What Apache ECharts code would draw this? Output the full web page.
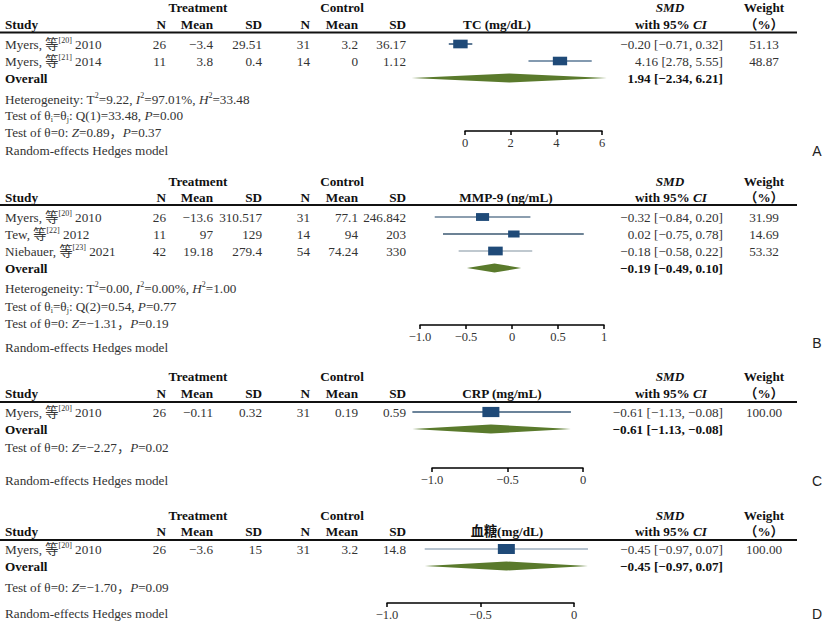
<!DOCTYPE html>
<html>
<head>
<meta charset="utf-8">
<title>Forest plots</title>
<script src="https://cdn.jsdelivr.net/npm/echarts@6.0.0/dist/echarts.min.js"></script>
<style>
    html, body { margin: 0; padding: 0; background: #fff; }
    #chart { width: 823px; height: 628px; }
</style>
</head>
<body>
<div id="chart"></div>
<script>
// ---------- data ----------
// A: TC
const tcTitle = 'TC (mg/dL)';
const tcStudies = ['Myers', 'Myers'];
const tcRefs = [20, 21];
const tcYears = [2010, 2014];
const tcTreat = [[26, -3.4, 29.51], [11, 3.8, 0.4]];      // N, Mean, SD
const tcCtrl = [[31, 3.2, 36.17], [14, 0, 1.12]];
const tcSmd = [[-0.20, -0.71, 0.32], [4.16, 2.78, 5.55]]; // SMD, lower, upper
const tcWeight = [51.13, 48.87];
const tcOverall = [1.94, -2.34, 6.21];
const tcTicks = [0, 2, 4, 6];
const tcTickLabels = ['0', '2', '4', '6'];
const tcNotes = [
    'Heterogeneity: T{sup|2}=9.22, {i|I}{sup|2}=97.01%, {i|H}{sup|2}=33.48',
    'Test of θ{sub|i}=θ{sub|j}: Q(1)=33.48, {i|P}=0.00',
    'Test of θ=0: {i|Z}=0.89，{i|P}=0.37'
];

// B: MMP-9
const mmpTitle = 'MMP-9 (ng/mL)';
const mmpStudies = ['Myers', 'Tew', 'Niebauer'];
const mmpRefs = [20, 22, 23];
const mmpYears = [2010, 2012, 2021];
const mmpTreat = [[26, -13.6, 310.517], [11, 97, 129], [42, 19.18, 279.4]];
const mmpCtrl = [[31, 77.1, 246.842], [14, 94, 203], [54, 74.24, 330]];
const mmpSmd = [[-0.32, -0.84, 0.20], [0.02, -0.75, 0.78], [-0.18, -0.58, 0.22]];
const mmpWeight = [31.99, 14.69, 53.32];
const mmpOverall = [-0.19, -0.49, 0.10];
const mmpTicks = [-1, -0.5, 0, 0.5, 1];
const mmpTickLabels = ['−1.0', '−0.5', '0', '0.5', '1'];
const mmpNotes = [
    'Heterogeneity: T{sup|2}=0.00, {i|I}{sup|2}=0.00%, {i|H}{sup|2}=1.00',
    'Test of θ{sub|i}=θ{sub|j}: Q(2)=0.54, {i|P}=0.77',
    'Test of θ=0: {i|Z}=−1.31，{i|P}=0.19'
];

// C: CRP
const crpTitle = 'CRP (mg/mL)';
const crpStudies = ['Myers'];
const crpRefs = [20];
const crpYears = [2010];
const crpTreat = [[26, -0.11, 0.32]];
const crpCtrl = [[31, 0.19, 0.59]];
const crpSmd = [[-0.61, -1.13, -0.08]];
const crpWeight = [100];
const crpOverall = [-0.61, -1.13, -0.08];
const crpTicks = [-1, -0.5, 0];
const crpTickLabels = ['−1.0', '−0.5', '0'];
const crpNotes = ['Test of θ=0: {i|Z}=−2.27，{i|P}=0.02'];

// D: blood glucose
const gluTitle = '血糖(mg/dL)';
const gluStudies = ['Myers'];
const gluRefs = [20];
const gluYears = [2010];
const gluTreat = [[26, -3.6, 15]];
const gluCtrl = [[31, 3.2, 14.8]];
const gluSmd = [[-0.45, -0.97, 0.07]];
const gluWeight = [100];
const gluOverall = [-0.45, -0.97, 0.07];
const gluTicks = [-1, -0.5, 0];
const gluTickLabels = ['−1.0', '−0.5', '0'];
const gluNotes = ['Test of θ=0: {i|Z}=−1.70，{i|P}=0.09'];

const modelNote = 'Random-effects Hedges model';
const colHeads = ['N', 'Mean', 'SD', 'N', 'Mean', 'SD'];

// ---------- layout ----------
const FONT = "'Liberation Serif', 'Times New Roman', 'Noto Sans CJK SC', serif";
const FS = 13.2;
const BODY = '#333';
const HEAD = '#111';
const BOX = '#1f4a78';
const DIAMOND = '#5a7a2c';
const ROW = 17;
const COLX = [166, 213, 262, 310, 358, 406];

const panels = [
    { letter: 'A', title: tcTitle, studies: tcStudies, refs: tcRefs, years: tcYears, treat: tcTreat, ctrl: tcCtrl,
      smd: tcSmd, weight: tcWeight, overall: tcOverall, ticks: tcTicks, tickLabels: tcTickLabels, notes: tcNotes,
      hdr: [7.5, 24, 32.5], row0: 44, axisY: 131, noteY: [99, 115.5, 132], modelY: 150, letterY: 151,
      titleX: 497, axisL: 465, axisW: 137, ciColors: ['#2b4f74', '#5a7996'] },
    { letter: 'B', title: mmpTitle, studies: mmpStudies, refs: mmpRefs, years: mmpYears, treat: mmpTreat, ctrl: mmpCtrl,
      smd: mmpSmd, weight: mmpWeight, overall: mmpOverall, ticks: mmpTicks, tickLabels: mmpTickLabels, notes: mmpNotes,
      hdr: [181, 197, 205], row0: 217, axisY: 325, noteY: [288, 306, 323], modelY: 347, letterY: 343,
      titleX: 506, axisL: 420, axisW: 184, ciColors: ['#667e95', '#3b5872', '#aab6bf'] },
    { letter: 'C', title: crpTitle, studies: crpStudies, refs: crpRefs, years: crpYears, treat: crpTreat, ctrl: crpCtrl,
      smd: crpSmd, weight: crpWeight, overall: crpOverall, ticks: crpTicks, tickLabels: crpTickLabels, notes: crpNotes,
      hdr: [376, 393, 402], row0: 412, axisY: 468, noteY: [447], modelY: 480, letterY: 481,
      titleX: 502, axisL: 432, axisW: 151, ciColors: ['#3a5a78'] },
    // the marks in D sit on a slightly different scale than its printed axis
    { letter: 'D', title: gluTitle, studies: gluStudies, refs: gluRefs, years: gluYears, treat: gluTreat, ctrl: gluCtrl,
      smd: gluSmd, weight: gluWeight, overall: gluOverall, ticks: gluTicks, tickLabels: gluTickLabels, notes: gluNotes,
      hdr: [515, 531, 540], row0: 549, axisY: 603, noteY: [587], modelY: 613, letterY: 614,
      titleX: 507, axisL: 387, axisW: 187, markL: 420, markW: 157, ciColors: ['#9fb1c0'] }
];

const RICH = {
    i: { fontFamily: FONT, fontSize: FS, fontStyle: 'italic', fill: BODY, lineHeight: 16 },
    b: { fontFamily: FONT, fontSize: FS, fontWeight: 'bold', fill: HEAD, lineHeight: 16 },
    bi: { fontFamily: FONT, fontSize: FS, fontWeight: 'bold', fontStyle: 'italic', fill: HEAD, lineHeight: 16 },
    sup: { fontFamily: FONT, fontSize: 8, fill: BODY, lineHeight: 8, verticalAlign: 'top' },
    sub: { fontFamily: FONT, fontSize: 8, fill: BODY, lineHeight: 8, verticalAlign: 'bottom' }
};

function num(v) { return String(v).replace('-', '−'); }
function f2(v) { return v.toFixed(2).replace(/-/g, '−'); }
function ci(a) { return f2(a[0]) + ' [' + f2(a[1]) + ', ' + f2(a[2]) + ']'; }

function txt(x, y, text, align, extra) {
    return {
        type: 'text', x: x, y: y, silent: true,
        style: Object.assign({
            text: text, fill: BODY, fontSize: FS, fontFamily: FONT, lineHeight: 16,
            textAlign: align, textVerticalAlign: 'middle', rich: RICH
        }, extra || {})
    };
}
const bold = { fontWeight: 'bold', fill: HEAD };

const graphics = [];
const grids = [], xAxes = [], yAxes = [], series = [];

panels.forEach(function (p, pi) {
    // header
    graphics.push(txt(198, p.hdr[0], 'Treatment', 'center', bold));
    graphics.push(txt(342, p.hdr[0], 'Control', 'center', bold));
    graphics.push(txt(670, p.hdr[0], 'SMD', 'center', { fontWeight: 'bold', fontStyle: 'italic', fill: HEAD }));
    graphics.push(txt(764, p.hdr[0], 'Weight', 'center', bold));
    graphics.push(txt(5, p.hdr[1], 'Study', 'left', bold));
    colHeads.forEach(function (h, k) { graphics.push(txt(COLX[k], p.hdr[1], h, 'right', bold)); });
    graphics.push(txt(p.titleX, p.hdr[1], p.title, 'center', bold));
    graphics.push(txt(671, p.hdr[1], 'with 95% {bi|CI}', 'center', bold));
    graphics.push(txt(764, p.hdr[1], '（%）', 'center', bold));
    graphics.push({ type: 'line', silent: true,
        shape: { x1: 0, y1: p.hdr[2], x2: 797, y2: p.hdr[2] },
        style: { stroke: '#111', lineWidth: 2 } });

    // study rows
    p.studies.forEach(function (s, i) {
        const y = p.row0 + i * ROW;
        graphics.push(txt(5, y, s + ', 等{sup|[' + p.refs[i] + ']} ' + p.years[i], 'left'));
        const vals = p.treat[i].concat(p.ctrl[i]);
        vals.forEach(function (v, k) { graphics.push(txt(COLX[k], y, num(v), 'right')); });
        graphics.push(txt(723, y, ci(p.smd[i]), 'right'));
        graphics.push(txt(764, y, p.weight[i].toFixed(2), 'center'));
    });
    const oy = p.row0 + p.studies.length * ROW;
    graphics.push(txt(5, oy, 'Overall', 'left', bold));
    graphics.push(txt(723, oy, ci(p.overall), 'right', bold));

    p.notes.forEach(function (n, k) { graphics.push(txt(5, p.noteY[k], n, 'left')); });
    graphics.push(txt(5, p.modelY, modelNote, 'left'));
    graphics.push(txt(817, p.letterY, p.letter, 'center',
        { fontFamily: "'Liberation Sans', Arial, sans-serif", fontSize: 14, fill: '#222' }));

    // axes
    const h = p.axisY - p.row0;
    const ticks = p.ticks, labels = p.tickLabels;
    const axisStyle = {
        type: 'value', min: ticks[0], max: ticks[ticks.length - 1], interval: ticks[1] - ticks[0],
        axisLine: { show: true, onZero: false, lineStyle: { color: '#000', width: 1.5 } },
        axisTick: { show: true, length: 4, lineStyle: { color: '#000', width: 1.5 } },
        axisLabel: {
            margin: 6, color: BODY, fontFamily: FONT, fontSize: 12.5,
            formatter: function (v) {
                const k = ticks.findIndex(function (t) { return Math.abs(t - v) < 1e-9; });
                return k >= 0 ? labels[k] : '';
            }
        },
        splitLine: { show: false }
    };
    const gi = grids.length;
    const separate = p.markL !== undefined;
    grids.push({ left: separate ? p.markL : p.axisL, width: separate ? p.markW : p.axisW,
        top: p.row0, height: h, containLabel: false, outerBoundsMode: 'none' });
    xAxes.push(Object.assign({}, axisStyle, { gridIndex: gi, position: 'bottom', show: !separate }));
    yAxes.push({ type: 'value', gridIndex: gi, min: 0, max: h / ROW, inverse: true, show: false });
    if (separate) {
        grids.push({ left: p.axisL, width: p.axisW, top: p.row0, height: h,
            containLabel: false, outerBoundsMode: 'none' });
        xAxes.push(Object.assign({}, axisStyle, { gridIndex: gi + 1, position: 'bottom' }));
        yAxes.push({ type: 'value', gridIndex: gi + 1, min: 0, max: h / ROW, inverse: true, show: false });
    }

    const studyData = p.smd.map(function (s, i) { return [s[0], s[1], s[2], i, p.weight[i]]; });
    const ciColors = p.ciColors;
    series.push({
        type: 'custom', xAxisIndex: gi, yAxisIndex: gi, clip: false, silent: true,
        data: studyData,
        renderItem: function (params, api) {
            const row = api.value(3);
            const c = api.coord([api.value(0), row]);
            const l = api.coord([api.value(1), row]);
            const r = api.coord([api.value(2), row]);
            const bw = 8 + Math.sqrt(api.value(4)) * 0.9;
            const bh = bw * 0.6;
            return { type: 'group', children: [
                { type: 'line', shape: { x1: l[0], y1: l[1], x2: r[0], y2: r[1] },
                  style: { stroke: ciColors[params.dataIndex], lineWidth: 1.5 } },
                { type: 'rect', shape: { x: c[0] - bw / 2, y: c[1] - bh / 2, width: bw, height: bh },
                  style: { fill: BOX } }
            ] };
        }
    });
    series.push({
        type: 'custom', xAxisIndex: gi, yAxisIndex: gi, clip: false, silent: true,
        data: [[p.overall[0], p.overall[1], p.overall[2], p.studies.length]],
        renderItem: function (params, api) {
            const row = api.value(3);
            const c = api.coord([api.value(0), row]);
            const l = api.coord([api.value(1), row]);
            const r = api.coord([api.value(2), row]);
            const hh = 4.5;
            return { type: 'polygon',
                shape: { points: [[l[0], l[1]], [c[0], c[1] - hh], [r[0], r[1]], [c[0], c[1] + hh]] },
                style: { fill: DIAMOND } };
        }
    });
});

const chart = echarts.init(document.getElementById('chart'), null, { renderer: 'svg' });
chart.setOption({
    animation: false,
    grid: grids,
    xAxis: xAxes,
    yAxis: yAxes,
    series: series,
    graphic: { elements: graphics }
});
</script>
</body>
</html>
